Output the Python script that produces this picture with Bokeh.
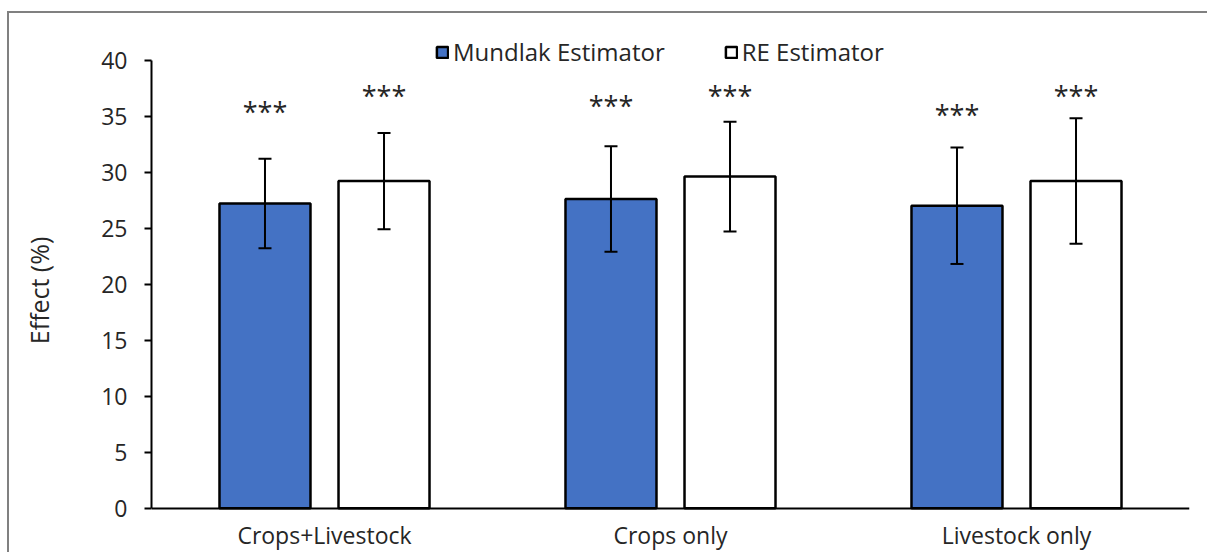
from bokeh.plotting import figure
from bokeh.models import (ColumnDataSource, FactorRange, FixedTicker, Whisker,
                          Legend, LegendItem, Range1d)
from bokeh.transform import dodge
from bokeh.core.properties import value
from bokeh.embed import file_html
from bokeh.resources import INLINE

categories = ["Crops+Livestock", "Crops only", "Livestock only"]
mundlak = [27.2, 27.6, 27.0]
mundlak_err = [4.0, 4.7, 5.2]
re_est = [29.2, 29.6, 29.2]
re_err = [4.3, 4.9, 5.6]
stars_mundlak = ["***", "***", "***"]
stars_re = ["***", "***", "***"]
star_y_mundlak = [35.45, 35.95, 35.15]
star_y_re = [36.8, 36.8, 36.8]
y_ticks = [0, 5, 10, 15, 20, 25, 30, 35, 40]

FONT = "Open Sans"
TXT = "#262626"

src = ColumnDataSource(dict(
    cat=categories,
    m=mundlak, m_lo=[v - e for v, e in zip(mundlak, mundlak_err)],
    m_hi=[v + e for v, e in zip(mundlak, mundlak_err)],
    r=re_est, r_lo=[v - e for v, e in zip(re_est, re_err)],
    r_hi=[v + e for v, e in zip(re_est, re_err)],
    sm=stars_mundlak, sr=stars_re, sym=star_y_mundlak, syr=star_y_re,
))

p = figure(x_range=FactorRange(*categories), y_range=Range1d(-4.14, 43),
           width=1200, height=541, output_backend="svg", toolbar_location=None,
           min_border_left=142, min_border_right=20, min_border_top=13,
           min_border_bottom=0)
p.styles = {"border-left": "2px solid #808080", "border-top": "2px solid #808080",
            "margin-left": "7px", "margin-top": "11px"}
p.outline_line_color = None
p.xgrid.grid_line_color = None
p.ygrid.grid_line_color = None

BW = 0.263
OFF = 0.172
rm = p.vbar(x=dodge("cat", -OFF, range=p.x_range), top="m", width=BW, source=src,
            fill_color="#4472C4", line_color="black", line_width=2.5)
rr = p.vbar(x=dodge("cat", OFF, range=p.x_range), top="r", width=BW, source=src,
            fill_color="white", line_color="black", line_width=2.5)

for xs, lo, hi in [(-OFF, "m_lo", "m_hi"), (OFF, "r_lo", "r_hi")]:
    w = Whisker(base=dodge("cat", xs, range=p.x_range), lower=lo, upper=hi,
                source=src, line_color="black", line_width=2, level="overlay")
    w.upper_head.size = 13
    w.lower_head.size = 13
    w.upper_head.line_width = 2
    w.lower_head.line_width = 2
    p.add_layout(w)

p.text(x=dodge("cat", -OFF, range=p.x_range), y="sym", text="sm", source=src,
       text_font=value(FONT), text_font_size="27px", text_color=TXT,
       text_align="center", text_baseline="middle")
p.text(x=dodge("cat", OFF, range=p.x_range), y="syr", text="sr", source=src,
       text_font=value(FONT), text_font_size="27px", text_color=TXT,
       text_align="center", text_baseline="middle")

legend = Legend(items=[LegendItem(label="Mundlak Estimator", renderers=[rm]),
                       LegendItem(label="RE Estimator", renderers=[rr])],
                location=(284, 486), orientation="horizontal",
                glyph_width=14, glyph_height=14, label_standoff=4, spacing=59,
                padding=0, margin=0, border_line_color=None,
                background_fill_alpha=0,
                label_text_font=FONT, label_text_font_size="24px",
                label_text_color=TXT)
p.add_layout(legend)

p.yaxis.ticker = FixedTicker(ticks=y_ticks)
p.yaxis.bounds = (0, 40)
p.yaxis.axis_label = "Effect (%)"
p.yaxis.axis_label_text_font = FONT
p.yaxis.axis_label_text_font_size = "25px"
p.yaxis.axis_label_text_font_style = "normal"
p.yaxis.axis_label_text_color = TXT
p.yaxis.axis_label_standoff = 42
p.yaxis.major_label_text_font = FONT
p.yaxis.major_label_text_font_size = "23px"
p.yaxis.major_label_text_color = TXT
p.yaxis.major_label_standoff = 17
p.yaxis.axis_line_color = "black"
p.yaxis.axis_line_width = 2
p.yaxis.major_tick_line_color = "black"
p.yaxis.major_tick_line_width = 2
p.yaxis.major_tick_out = 7
p.yaxis.major_tick_in = 0
p.yaxis.minor_tick_line_color = None

p.xaxis.fixed_location = 0
p.xaxis.major_label_text_font = FONT
p.xaxis.major_label_text_font_size = "23px"
p.xaxis.major_label_text_color = TXT
p.xaxis.major_label_standoff = 5
p.xaxis.axis_line_color = "black"
p.xaxis.axis_line_width = 2
p.xaxis.major_tick_line_color = None
p.xaxis.minor_tick_line_color = None

open("out.html", "w").write(file_html(p, INLINE))
